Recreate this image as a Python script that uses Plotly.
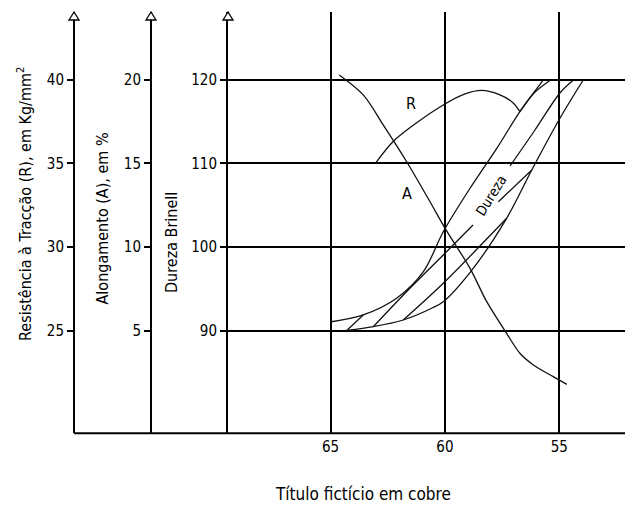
import plotly.graph_objects as go

W, H = 625, 505
FONT = "DejaVu Sans Condensed, DejaVu Sans, sans-serif"
INK = "#111111"

# ---------------- data ----------------
x_ticks = [65, 60, 55]                 # Título fictício em cobre
brinell_ticks = [90, 100, 110, 120]    # Dureza Brinell
resist_ticks = [25, 30, 35, 40]        # Resistência à Tracção (R), kg/mm2
along_ticks = [5, 10, 15, 20]          # Alongamento (A), %

# Curve R  (Resistência, kg/mm2)
r_x = [63.03, 62.26, 61.31, 60.07, 59.12, 58.39, 57.59, 57.01, 56.72]
r_y = [35.02, 36.31, 37.35, 38.49, 39.15, 39.36, 39.09, 38.61, 38.09]

# Curve A  (Alongamento, %)
a_x = [64.62, 63.57, 62.69, 61.67, 60.65, 59.99, 58.90, 58.17, 57.30, 56.72, 56.13, 55.26, 54.67]
a_y = [20.28, 19.09, 17.29, 15.10, 12.71, 11.12, 8.73, 6.74, 4.85, 3.66, 2.96, 2.26, 1.80]

# Dureza band (Brinell) - upper boundary
du_x = [65.02, 63.57, 62.11, 60.94, 60.07, 58.90, 57.73, 56.72, 55.70]
du_y = [91.05, 91.89, 93.88, 97.06, 101.84, 107.03, 111.80, 116.18, 119.96]
# upper boundary fork near the top
df_x = [56.72, 56.10, 55.38]
df_y = [116.18, 118.41, 119.96]
# lower boundary
dl_x = [64.29, 63.13, 61.82, 60.58, 60.07, 58.76, 57.30, 56.20, 54.97, 53.95]
dl_y = [90.04, 90.49, 91.29, 92.69, 93.48, 97.47, 103.44, 109.21, 115.39, 119.96]
# short link at the start
ds_x = [64.29, 63.57]
ds_y = [90.04, 91.89]
# middle line (carries the "Dureza" label, broken by None)
dm_x = [63.13, 61.53, 60.07, 58.77, None, 57.15, 56.06, 54.97, 54.38]
dm_y = [90.49, 95.08, 99.06, 102.64, None, 109.69, 113.99, 118.41, 119.96]
# inner line joining the lower boundary
di_x = [61.82, 60.07, 57.30]
di_y = [91.29, 95.68, 103.44]
# short inner segment
dk_x = [57.66, 56.20]
dk_y = [105.42, 109.21]

# ---------------- layout geometry (pixels) ----------------
AX_R, AX_A, AX_D, RIGHT = 74, 151, 228, 625
TOP, BOTTOM = 12, 433.3


def px(x):
    return x / W


def py(y):
    return 1 - y / H


ydom = [py(BOTTOM), py(TOP)]

fig = go.Figure()


def add_line(xs, ys, yaxis="y", shape="spline"):
    fig.add_trace(go.Scatter(
        x=xs, y=ys, yaxis=yaxis, mode="lines",
        line=dict(color=INK, width=1.3, shape=shape, smoothing=0.9),
        hoverinfo="skip", showlegend=False, connectgaps=False))


add_line(r_x, r_y, "y2")
add_line(a_x, a_y, "y3")
add_line(du_x, du_y)
add_line(df_x, df_y)
add_line(dl_x, dl_y)
add_line(ds_x, ds_y, shape="linear")
add_line(dm_x, dm_y)
add_line(di_x, di_y)
add_line(dk_x, dk_y, shape="linear")

tickfont = dict(family=FONT, size=15, color="black")

common_y = dict(showline=True, linecolor="black", linewidth=2,
                ticks="outside", ticklen=6, tickwidth=2, tickcolor="black",
                tickfont=tickfont, zeroline=False, fixedrange=True)

fig.update_layout(
    width=W, height=H,
    margin=dict(l=0, r=0, t=0, b=0),
    paper_bgcolor="white", plot_bgcolor="white",
    xaxis=dict(domain=[px(AX_D), 1], range=[69.483, 52.124],
               tickmode="array", tickvals=x_ticks, ticktext=[str(v) for v in x_ticks],
               showgrid=True, gridcolor="black", gridwidth=2,
               showline=False, zeroline=False, ticks="",
               ticklabelstandoff=3, tickfont=tickfont, fixedrange=True),
    yaxis=dict(domain=ydom, range=[77.754, 128.088],
               tickmode="array", tickvals=brinell_ticks,
               showgrid=True, gridcolor="black", gridwidth=2, **common_y),
    yaxis2=dict(domain=ydom, range=[18.877, 44.044], overlaying="y",
                anchor="free", position=px(AX_R), side="left",
                tickmode="array", tickvals=resist_ticks, showgrid=False, **common_y),
    yaxis3=dict(domain=ydom, range=[-1.123, 24.044], overlaying="y",
                anchor="free", position=px(AX_A), side="left",
                tickmode="array", tickvals=along_ticks, showgrid=False, **common_y),
)

# bottom base line across all axes
fig.add_shape(type="line", xref="paper", yref="paper",
              x0=px(AX_R), x1=px(RIGHT), y0=py(BOTTOM), y1=py(BOTTOM),
              line=dict(color="black", width=2))

# open arrow heads on top of each vertical axis
for ax in (AX_R, AX_A, AX_D):
    path = (f"M {px(ax)},{py(TOP)} L {px(ax - 5)},{py(TOP + 8)} "
            f"L {px(ax + 5)},{py(TOP + 8)} Z")
    fig.add_shape(type="path", xref="paper", yref="paper", path=path,
                  fillcolor="white", line=dict(color="black", width=1.3))

labfont = dict(family=FONT, size=16, color="black")


def title(text, x, y, angle=0, size=16):
    fig.add_annotation(text=text, x=px(x), y=py(y), xref="paper", yref="paper",
                       xanchor="center", yanchor="middle", textangle=angle,
                       showarrow=False, font=dict(family=FONT, size=size, color="black"))


# axis titles
title("Resistência à Tracção (R), em Kg/mm<sup>2</sup>", 24, 204, -90)
title("Alongamento (A), em %", 102.5, 219, -90)
title("Dureza Brinell", 171, 243, -90)
title("Título fictício em cobre", 363, 494, 0, 17)

# curve labels
fig.add_annotation(text="R", x=61.49, y=117.18, xref="x", yref="y",
                   showarrow=False, font=labfont)
fig.add_annotation(text="A", x=61.67, y=106.43, xref="x", yref="y",
                   showarrow=False, font=labfont)
fig.add_annotation(text="Dureza", x=57.96, y=106.17, xref="x", yref="y",
                   textangle=-58, showarrow=False,
                   font=dict(family=FONT, size=14, color="black"))

fig.write_html("out.html", config={"displayModeBar": False},
               post_script="document.body.style.margin='0';")
